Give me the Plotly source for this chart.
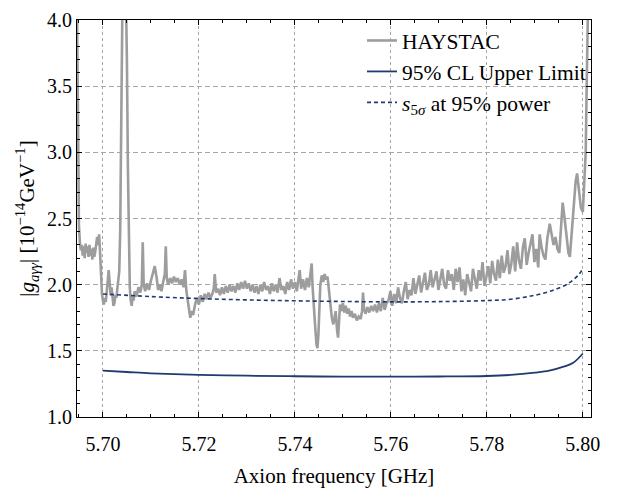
import plotly.graph_objects as go

# ---------------- data ----------------
haystac_freq = [
    5.6946, 5.6947, 5.6948, 5.6949, 5.6950, 5.6952, 5.6954, 5.6956, 5.6958, 5.6960,
    5.6962, 5.6964, 5.6966, 5.6968, 5.6970, 5.6972, 5.6974, 5.6976, 5.6978, 5.6980,
    5.6982, 5.6984, 5.6986, 5.6988, 5.6990, 5.6992, 5.6994, 5.6996, 5.6998, 5.7000,
    5.7002, 5.7004, 5.7006, 5.7008, 5.7010, 5.7012, 5.7014, 5.7016, 5.7018, 5.7020,
    5.7022, 5.7024, 5.7026, 5.7028, 5.7030, 5.7032, 5.7034, 5.7036, 5.7038, 5.7040,
    5.7043, 5.7046, 5.7048, 5.7050, 5.7052, 5.7054, 5.7056, 5.7058, 5.7060, 5.7062,
    5.7064, 5.7066, 5.7070, 5.7074, 5.7078, 5.7081, 5.7083, 5.7085, 5.7088, 5.7092,
    5.7096, 5.7100, 5.7104, 5.7108, 5.7112, 5.7115, 5.7119, 5.7122, 5.7126, 5.7129,
    5.7131, 5.7133, 5.7136, 5.7140, 5.7144, 5.7148, 5.7152, 5.7156, 5.7160, 5.7164,
    5.7168, 5.7171, 5.7174, 5.7177, 5.7180, 5.7182, 5.7185, 5.7188, 5.7192, 5.7196,
    5.7200, 5.7204, 5.7208, 5.7212, 5.7216, 5.7220, 5.7224, 5.7228, 5.7231, 5.7233,
    5.7236, 5.7240, 5.7244, 5.7248, 5.7252, 5.7256, 5.7260, 5.7264, 5.7268, 5.7272,
    5.7276, 5.7280, 5.7284, 5.7288, 5.7292, 5.7296, 5.7300, 5.7304, 5.7308, 5.7312,
    5.7316, 5.7320, 5.7324, 5.7328, 5.7332, 5.7336, 5.7340, 5.7344, 5.7348, 5.7352,
    5.7356, 5.7360, 5.7364, 5.7368, 5.7372, 5.7376, 5.7380, 5.7384, 5.7388, 5.7392,
    5.7396, 5.7400, 5.7404, 5.7408, 5.7410, 5.7413, 5.7417, 5.7421, 5.7425, 5.7429,
    5.7432, 5.7435, 5.7437, 5.7440, 5.7442, 5.7445, 5.7447, 5.7449, 5.7451, 5.7453,
    5.7456, 5.7459, 5.7462, 5.7465, 5.7468, 5.7471, 5.7474, 5.7477, 5.7480, 5.7482,
    5.7485, 5.7488, 5.7490, 5.7492, 5.7494, 5.7497, 5.7500, 5.7503, 5.7506, 5.7509,
    5.7512, 5.7515, 5.7518, 5.7521, 5.7525, 5.7529, 5.7533, 5.7537, 5.7540, 5.7542,
    5.7544, 5.7547, 5.7551, 5.7555, 5.7559, 5.7563, 5.7567, 5.7571, 5.7575, 5.7579,
    5.7583, 5.7587, 5.7591, 5.7595, 5.7599, 5.7603, 5.7607, 5.7611, 5.7615, 5.7619,
    5.7623, 5.7627, 5.7631, 5.7635, 5.7639, 5.7643, 5.7647, 5.7651, 5.7655, 5.7659,
    5.7663, 5.7667, 5.7671, 5.7675, 5.7679, 5.7683, 5.7687, 5.7691, 5.7695, 5.7699,
    5.7703, 5.7707, 5.7711, 5.7715, 5.7719, 5.7723, 5.7727, 5.7731, 5.7735, 5.7739,
    5.7743, 5.7747, 5.7751, 5.7755, 5.7759, 5.7763, 5.7767, 5.7771, 5.7775, 5.7779,
    5.7783, 5.7787, 5.7791, 5.7795, 5.7799, 5.7803, 5.7807, 5.7811, 5.7815, 5.7819,
    5.7823, 5.7827, 5.7831, 5.7835, 5.7839, 5.7843, 5.7847, 5.7851, 5.7855, 5.7859,
    5.7863, 5.7867, 5.7871, 5.7875, 5.7879, 5.7883, 5.7887, 5.7891, 5.7895, 5.7899,
    5.7903, 5.7907, 5.7910, 5.7914, 5.7918, 5.7922, 5.7926, 5.7931, 5.7935, 5.7939,
    5.7943, 5.7947, 5.7951, 5.7955, 5.7958, 5.7962, 5.7966, 5.7970, 5.7973, 5.7977,
    5.7981, 5.7985, 5.7988, 5.7992, 5.7996, 5.8000, 5.8003, 5.8006, 5.8008, 5.8010,
    5.8013,
]
haystac_g = [
    4.10, 3.60, 3.00, 2.65, 2.45, 2.32, 2.26, 2.30, 2.22, 2.29,
    2.20, 2.31, 2.24, 2.29, 2.21, 2.30, 2.22, 2.27, 2.19, 2.28,
    2.21, 2.25, 2.30, 2.36, 2.30, 2.38, 2.25, 2.05, 1.93, 1.88,
    1.85, 1.90, 1.87, 1.95, 2.05, 2.11, 2.02, 1.92, 1.98, 1.88,
    1.84, 1.86, 1.92, 1.90, 1.96, 2.00, 2.10, 2.40, 3.20, 4.30,
    5.00, 4.60, 4.20, 3.70, 2.90, 2.30, 1.98, 1.88, 1.84, 1.92,
    1.88, 1.95, 1.91, 1.98, 1.94, 2.00, 2.32, 2.00, 1.95, 2.01,
    1.96, 2.03, 2.08, 2.14, 2.05, 1.96, 2.00, 1.95, 2.03, 2.08,
    2.29, 2.05, 2.00, 2.05, 2.01, 2.06, 2.02, 2.05, 2.00, 2.04,
    1.98, 2.11, 1.95, 1.88, 1.78, 1.75, 1.80, 1.77, 1.85, 1.90,
    1.85, 1.92, 1.87, 1.93, 1.89, 1.94, 1.90, 1.93, 1.97, 2.08,
    1.94, 1.97, 1.92, 1.98, 1.93, 1.99, 1.94, 2.00, 1.95, 1.99,
    1.94, 2.01, 1.96, 2.02, 1.97, 2.03, 1.97, 2.01, 1.95, 2.00,
    1.94, 1.99, 1.93, 2.00, 1.95, 2.02, 1.96, 1.99, 1.93, 2.01,
    1.95, 2.00, 1.94, 2.05, 1.96, 1.99, 1.93, 2.02, 1.96, 2.04,
    1.97, 2.02, 1.95, 2.06, 2.11, 1.97, 2.04, 1.96, 2.05, 1.98,
    2.06, 2.16, 1.98, 1.85, 1.70, 1.55, 1.52, 1.62, 1.85, 2.00,
    2.07, 2.02, 2.08, 2.04, 2.06, 1.95, 1.85, 1.75, 1.70, 1.75,
    1.80, 1.65, 1.60, 1.72, 1.85, 1.80, 1.86, 1.79, 1.84, 1.78,
    1.82, 1.76, 1.80, 1.75, 1.78, 1.73, 1.76, 1.74, 1.80, 1.94,
    1.82, 1.78, 1.83, 1.79, 1.84, 1.80, 1.85, 1.79, 1.86, 1.80,
    1.90, 1.81, 1.86, 1.88, 1.95, 1.84, 1.93, 1.86, 1.98, 1.90,
    1.86, 1.95, 2.02, 1.89, 1.96, 1.92, 2.05, 1.93, 1.99, 2.07,
    1.94, 2.02, 2.09, 1.96, 2.00, 2.11, 1.98, 2.04, 2.10, 1.96,
    2.05, 2.12, 2.00, 1.97, 2.11, 2.03, 2.08, 1.96, 2.12, 2.02,
    2.13, 1.95, 2.04, 1.92, 2.08, 2.00, 1.95, 2.12, 2.04, 1.97,
    2.11, 2.03, 2.17, 1.99, 2.06, 2.14, 2.01, 2.18, 2.08, 2.03,
    2.19, 2.05, 2.22, 2.09, 2.14, 2.26, 2.08, 2.16, 2.29, 2.10,
    2.32, 2.18, 2.12, 2.28, 2.35, 2.15, 2.24, 2.31, 2.38, 2.17,
    2.27, 2.13, 2.38, 2.28, 2.22, 2.19, 2.35, 2.46, 2.38, 2.30,
    2.36, 2.27, 2.24, 2.45, 2.62, 2.50, 2.35, 2.24, 2.21, 2.40,
    2.62, 2.78, 2.84, 2.72, 2.58, 2.55, 2.75, 3.00, 3.50, 4.10,
    4.60,
]

limit_freq = [5.700, 5.705, 5.710, 5.720, 5.730, 5.740, 5.750, 5.760, 5.770,
              5.780, 5.785, 5.790, 5.793, 5.796, 5.798, 5.800]
limit_g = [1.350, 1.340, 1.330, 1.318, 1.312, 1.308, 1.305, 1.305, 1.306,
           1.310, 1.318, 1.335, 1.350, 1.380, 1.410, 1.480]

s5_freq = [5.700, 5.710, 5.720, 5.730, 5.740, 5.750, 5.760, 5.770, 5.780,
           5.785, 5.790, 5.794, 5.797, 5.799, 5.800]
s5_g = [1.930, 1.910, 1.895, 1.885, 1.878, 1.873, 1.870, 1.872, 1.880,
        1.890, 1.920, 1.960, 2.010, 2.070, 2.120]

x_ticks = [5.70, 5.72, 5.74, 5.76, 5.78, 5.80]
x_ticklabels = ["5.70", "5.72", "5.74", "5.76", "5.78", "5.80"]
y_ticks = [1.0, 1.5, 2.0, 2.5, 3.0, 3.5, 4.0]
y_ticklabels = ["1.0", "1.5", "2.0", "2.5", "3.0", "3.5", "4.0"]

# ---------------- figure ----------------
GRAY = "#9d9d9d"
NAVY = "#1f3b70"
FONT = "Liberation Serif, Times New Roman, serif"

fig = go.Figure()
fig.add_trace(go.Scatter(x=haystac_freq, y=haystac_g, mode="lines", name="HAYSTAC",
                         line=dict(color=GRAY, width=2.6)))
fig.add_trace(go.Scatter(x=limit_freq, y=limit_g, mode="lines", name="95% CL Upper Limit",
                         line=dict(color=NAVY, width=1.8, shape="spline")))
fig.add_trace(go.Scatter(x=s5_freq, y=s5_g, mode="lines",
                         name="<i>s</i><sub>5<i>σ</i></sub> at 95% power",
                         line=dict(color=NAVY, width=1.6, dash="4px,3px", shape="spline")))

axis_common = dict(
    showline=True, linecolor="black", linewidth=1, mirror="allticks",
    ticks="inside", ticklen=5, tickcolor="black",
    showgrid=True, gridcolor="#a6a6a6", gridwidth=1,
    zeroline=False, tickfont=dict(family=FONT, size=20, color="black"),
    ticklabeloverflow="allow",
)

fig.update_xaxes(
    range=[5.6946, 5.8017], tickvals=x_ticks, ticktext=x_ticklabels,
    griddash="3px,3px", ticklabelstandoff=9,
    minor=dict(dtick=0.005, tick0=5.70, ticks="inside", ticklen=3, tickcolor="black", showgrid=False),
    title=dict(text="Axion frequency [GHz]", font=dict(family=FONT, size=21, color="black"), standoff=14),
    **axis_common,
)
fig.update_yaxes(
    range=[1.0, 4.0], tickvals=y_ticks, ticktext=y_ticklabels,
    griddash="5px,3px",
    minor=dict(dtick=0.1, tick0=1.0, ticks="inside", ticklen=3, tickcolor="black", showgrid=False),
    title=dict(text="|<i>g</i><sub><i>aγγ</i></sub>| [10<sup>−14</sup>GeV<sup>−1</sup>]",
               font=dict(family=FONT, size=21, color="black"), standoff=6),
    **axis_common,
)

fig.update_layout(
    width=620, height=493,
    margin=dict(l=77, r=29, t=9, b=74),
    paper_bgcolor="white", plot_bgcolor="white",
    font=dict(family=FONT, size=20, color="black"),
    showlegend=True,
    legend=dict(x=1.0, xanchor="right", y=1.0, yanchor="top",
                bgcolor="rgba(0,0,0,0)", borderwidth=0,
                font=dict(family=FONT, size=21.5, color="black"),
                itemwidth=30, tracegroupgap=0),
)

fig.write_html("out.html")
